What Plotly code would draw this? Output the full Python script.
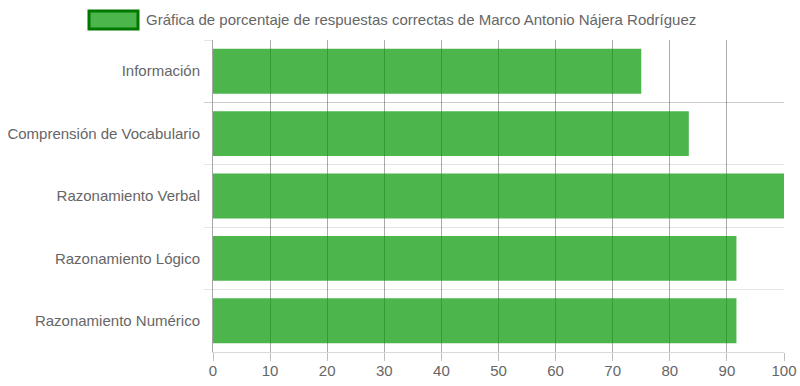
import plotly.graph_objects as go

categories = ["Información", "Comprensión de Vocabulario", "Razonamiento Verbal",
              "Razonamiento Lógico", "Razonamiento Numérico"]
values = [75.0, 83.33, 100.0, 91.67, 91.67]
series_name = "Gráfica de porcentaje de respuestas correctas de Marco Antonio Nájera Rodríguez"

W, H = 800, 386
ML, MR, MT, MB = 213, 16, 40, 34

fig = go.Figure()
fig.add_trace(go.Bar(
    x=values, y=categories, orientation="h",
    marker=dict(color="rgba(0,150,0,0.7)", line=dict(width=0)),
    width=0.72, name=series_name, showlegend=False,
))

font = dict(family="Liberation Sans, Arial, sans-serif", size=15, color="#666")

# custom legend (Chart.js-style wide box)
def px_x(p):
    return (p - ML) / (W - ML - MR)

def px_y(p):
    return 1 - (p - MT) / (H - MT - MB)

fig.add_shape(type="rect", xref="paper", yref="paper",
              x0=px_x(89), x1=px_x(138), y0=px_y(29), y1=px_y(11),
              fillcolor="rgba(0,150,0,0.7)", line=dict(color="rgb(0,120,0)", width=3))
fig.add_annotation(xref="paper", yref="paper", x=px_x(144), y=px_y(19),
                   xanchor="left", yanchor="middle", showarrow=False,
                   text=series_name, font=font)

fig.update_layout(
    width=W, height=H,
    margin=dict(l=ML, r=MR, t=MT, b=MB, autoexpand=False),
    paper_bgcolor="white", plot_bgcolor="white",
    font=font, showlegend=False,
    xaxis=dict(range=[0, 100], dtick=10, showgrid=True, automargin=False,
               gridcolor="rgba(0,0,0,0.33)", gridwidth=1,
               zeroline=False, showline=True, linecolor="rgba(0,0,0,0.15)",
               ticks="outside", ticklen=8, tickcolor="rgba(0,0,0,0.25)",
               ticklabelstandoff=-3,
               tickfont=font, fixedrange=True),
    yaxis=dict(categoryorder="array", categoryarray=categories,
               autorange="reversed", type="category", automargin=False,
               tickson="boundaries", showgrid=True,
               gridcolor="rgba(0,0,0,0.1)", gridwidth=1,
               showline=True, linecolor="rgba(0,0,0,0.35)",
               ticks="outside", ticklen=8, tickcolor="rgba(0,0,0,0.1)",
               ticklabelstandoff=9,
               tickfont=font, zeroline=False),
)

fig.write_html("out.html", config={"displayModeBar": False},
               post_script="document.body.style.margin='0';document.body.style.overflow='hidden';")
